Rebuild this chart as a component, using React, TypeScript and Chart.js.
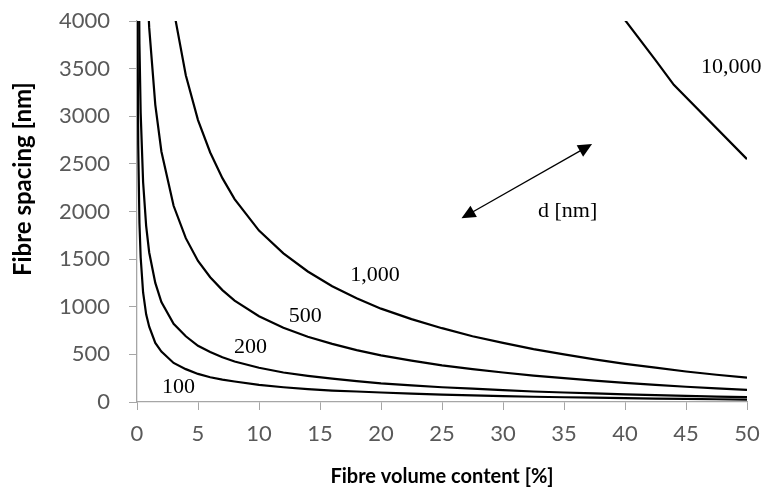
import { useEffect, useRef } from "react";
import { Chart, registerables } from "chart.js";

Chart.register(...registerables);

// Fibre volume content [%] and fibre spacing [nm], one curve per fibre diameter d
const vf100 = [0.04, 0.05, 0.1, 0.2, 0.3, 0.5, 0.75, 1, 1.5, 2, 3, 4, 5, 6, 7, 8, 10, 12, 14, 16, 18, 20, 22.5, 25, 27.5, 30, 32.5, 35, 37.5, 40, 42.5, 45, 47.5, 50];
const sp100 = [4330, 3860, 2700, 1880, 1520, 1150, 920, 790, 620, 530, 410, 345, 295, 260, 235, 215, 180, 155, 135, 120, 110, 100, 87, 77, 69, 62, 55, 50, 45, 40, 36, 32, 29, 25];

const vf200 = [0.1, 0.2, 0.3, 0.5, 0.75, 1, 1.5, 2, 3, 4, 5, 6, 7, 8, 10, 12, 14, 16, 18, 20, 22.5, 25, 27.5, 30, 32.5, 35, 37.5, 40, 42.5, 45, 47.5, 50];
const sp200 = [5400, 3760, 3040, 2310, 1850, 1570, 1250, 1050, 820, 690, 590, 525, 470, 425, 360, 310, 275, 245, 220, 195, 175, 155, 140, 125, 110, 100, 90, 80, 72, 64, 57, 51];

const vf500 = [0.5, 0.75, 1, 1.5, 2, 3, 4, 5, 6, 7, 8, 10, 12, 14, 16, 18, 20, 22.5, 25, 27.5, 30, 32.5, 35, 37.5, 40, 42.5, 45, 47.5, 50];
const sp500 = [5760, 4610, 3930, 3120, 2630, 2060, 1720, 1480, 1310, 1175, 1065, 900, 780, 685, 610, 545, 490, 435, 385, 345, 310, 277, 250, 224, 200, 180, 160, 143, 127];

const vf1000 = [2, 3, 4, 5, 6, 7, 8, 10, 12, 14, 16, 18, 20, 22.5, 25, 27.5, 30, 32.5, 35, 37.5, 40, 42.5, 45, 47.5, 50];
const sp1000 = [5270, 4120, 3430, 2960, 2620, 2350, 2130, 1800, 1560, 1370, 1215, 1090, 980, 870, 775, 690, 620, 555, 500, 447, 400, 360, 320, 286, 255];

const vf10000 = [37.5, 40, 42.5, 44, 50];
const sp10000 = [4470, 4010, 3590, 3330, 2550];

// Axis ticks
const xTicks = [0, 5, 10, 15, 20, 25, 30, 35, 40, 45, 50];
const yTicks = [0, 500, 1000, 1500, 2000, 2500, 3000, 3500, 4000];

// Axis titles
const xTitle = "Fibre volume content [%]";
const yTitle = "Fibre spacing [nm]";

// Curve labels (diameter d) placed in data coordinates
const curveLabels = ["100", "200", "500", "1,000", "10,000", "d [nm]"];
const curveLabelX = [3.4, 9.3, 13.8, 19.5, 48.7, 35.3];
const curveLabelY = [150, 570, 905, 1335, 3515, 2005];

// Double arrow (data coordinates)
const arrowX = [26.6, 37.3];
const arrowY = [1929, 2708];

const series = [
  { x: vf100, y: sp100 },
  { x: vf200, y: sp200 },
  { x: vf500, y: sp500 },
  { x: vf1000, y: sp1000 },
  { x: vf10000, y: sp10000 },
];

const annotationPlugin = {
  id: "curveAnnotations",
  afterDatasetsDraw(chart: any) {
    const { ctx, scales } = chart;
    const xs = scales.x;
    const ys = scales.y;
    ctx.save();
    ctx.fillStyle = "#000";
    ctx.font = '22px "Liberation Serif"';
    ctx.textAlign = "center";
    ctx.textBaseline = "middle";
    curveLabels.forEach((t, i) => {
      ctx.fillText(t, xs.getPixelForValue(curveLabelX[i]), ys.getPixelForValue(curveLabelY[i]));
    });
    const x1 = xs.getPixelForValue(arrowX[0]);
    const y1 = ys.getPixelForValue(arrowY[0]);
    const x2 = xs.getPixelForValue(arrowX[1]);
    const y2 = ys.getPixelForValue(arrowY[1]);
    const ang = Math.atan2(y2 - y1, x2 - x1);
    const hl = 14;
    const hw = 6.5;
    ctx.strokeStyle = "#000";
    ctx.lineWidth = 1.3;
    ctx.beginPath();
    ctx.moveTo(x1 + Math.cos(ang) * hl * 0.8, y1 + Math.sin(ang) * hl * 0.8);
    ctx.lineTo(x2 - Math.cos(ang) * hl * 0.8, y2 - Math.sin(ang) * hl * 0.8);
    ctx.stroke();
    const head = (tx: number, ty: number, a: number) => {
      const bx = tx - Math.cos(a) * hl;
      const by = ty - Math.sin(a) * hl;
      ctx.beginPath();
      ctx.moveTo(tx, ty);
      ctx.lineTo(bx + Math.sin(a) * hw, by - Math.cos(a) * hw);
      ctx.lineTo(bx - Math.sin(a) * hw, by + Math.cos(a) * hw);
      ctx.closePath();
      ctx.fill();
    };
    head(x2, y2, ang);
    head(x1, y1, ang + Math.PI);

    // Y-axis title, drawn by hand so it sits where the reference has it
    ctx.font = 'bold 24px "Lato"';
    ctx.translate(23, ys.top + (ys.bottom - ys.top) * 0.415);
    ctx.rotate(-Math.PI / 2);
    ctx.fillText(yTitle, 0, 0);
    ctx.restore();
  },
};

export default function App() {
  const canvasRef = useRef<HTMLCanvasElement | null>(null);

  useEffect(() => {
    if (!canvasRef.current) return;
    const axisGray = "#a6a6a6";
    const tickFont = { family: "Lato", size: 22 };
    const chart = new Chart(canvasRef.current, {
      type: "line",
      data: {
        datasets: series.map((s) => ({
          data: s.x.map((v, i) => ({ x: v, y: s.y[i] })),
          borderColor: "#000",
          borderWidth: 2.2,
          pointRadius: 0,
          tension: 0,
          fill: false,
        })),
      },
      options: {
        animation: false,
        responsive: true,
        maintainAspectRatio: false,
        parsing: false as any,
        layout: { padding: { top: 21, right: 18, left: 0, bottom: 0 } },
        plugins: { legend: { display: false }, tooltip: { enabled: false } },
        scales: {
          x: {
            type: "linear",
            min: 0,
            max: 50,
            afterBuildTicks: (scale: any) => {
              scale.ticks = xTicks.map((v) => ({ value: v }));
            },
            afterFit: (scale: any) => {
              scale.height = 92;
              scale.paddingLeft = 0;
              scale.paddingRight = 0;
            },
            grid: { display: true, drawOnChartArea: false, drawTicks: true, tickLength: 8, color: axisGray, lineWidth: 1 },
            border: { display: true, color: axisGray, width: 1.3 },
            ticks: {
              color: "#595959",
              font: tickFont,
              padding: 11,
              maxRotation: 0,
              autoSkip: false,
              callback: (v: any) => String(v),
            },
            title: {
              display: true,
              text: xTitle,
              color: "#000",
              font: { family: "Lato", size: 20, weight: "bold" },
              padding: { top: 0, bottom: 5 },
            },
          },
          y: {
            type: "linear",
            min: 0,
            max: 4000,
            afterBuildTicks: (scale: any) => {
              scale.ticks = yTicks.map((v) => ({ value: v }));
            },
            afterFit: (scale: any) => {
              scale.width = 137;
              scale.paddingTop = 0;
              scale.paddingBottom = 0;
            },
            grid: { display: true, drawOnChartArea: false, drawTicks: true, tickLength: 8, color: axisGray, lineWidth: 1 },
            border: { display: true, color: axisGray, width: 1.3 },
            ticks: {
              color: "#595959",
              font: tickFont,
              padding: 19,
              autoSkip: false,
              callback: (v: any) => String(v),
            },
            title: { display: false },
          },
        },
      },
      plugins: [annotationPlugin],
    });
    return () => chart.destroy();
  }, []);

  return (
    <div style={{ position: "absolute", left: 0, top: 0, width: 765, height: 494, background: "#fff" }}>
      <canvas ref={canvasRef} />
    </div>
  );
}
